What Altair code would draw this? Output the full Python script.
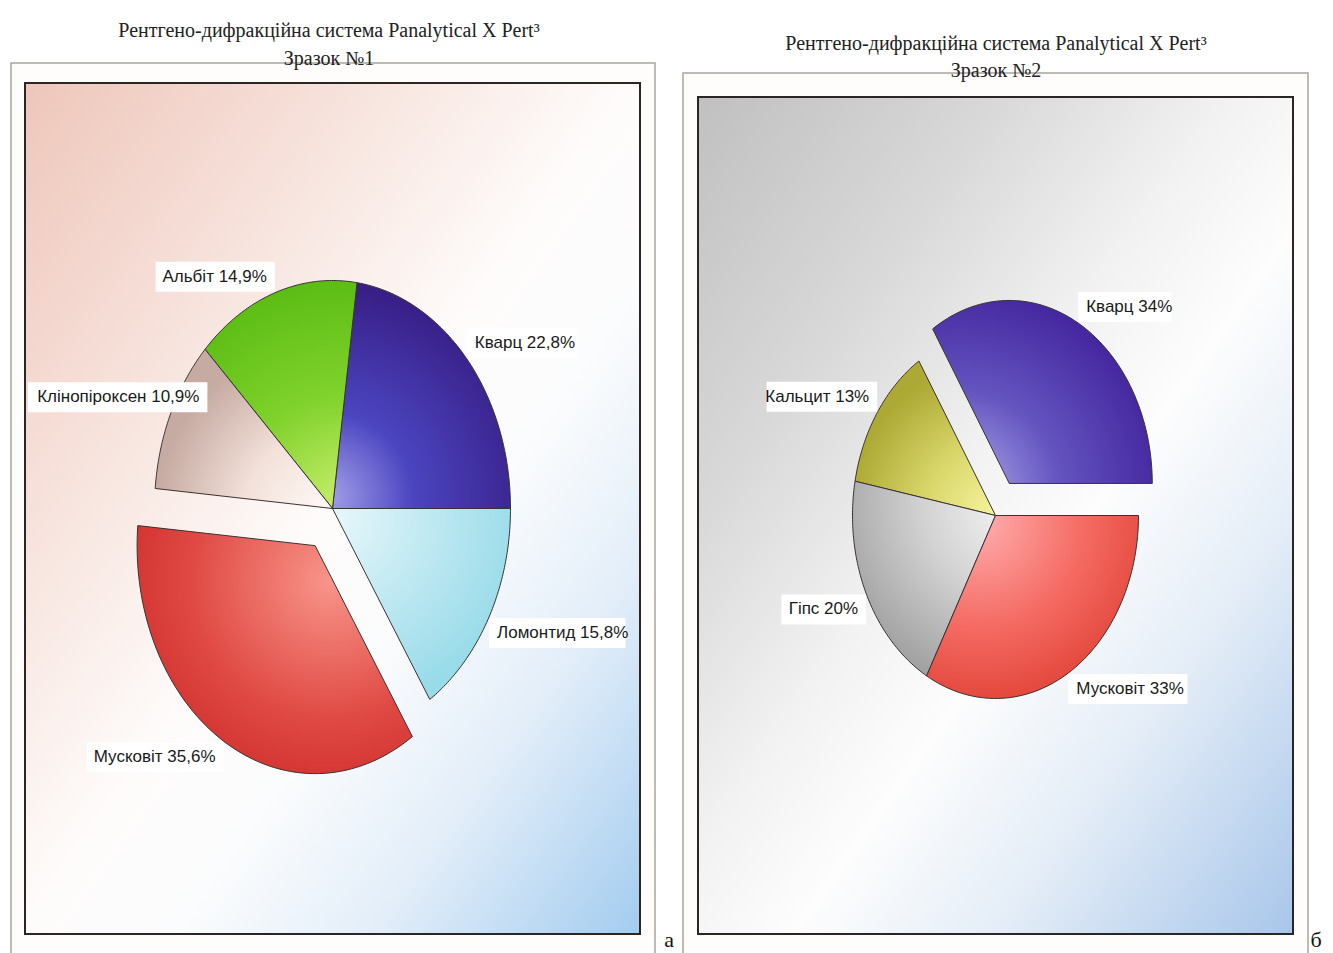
import altair as alt
import pandas as pd

# ---------------- data ----------------
names1 = ["Кварц", "Альбіт", "Клінопіроксен", "Мусковіт", "Ломонтид"]
values1 = [22.8, 14.9, 10.9, 35.6, 15.8]
labels1 = ["Кварц 22,8%", "Альбіт 14,9%", "Клінопіроксен 10,9%", "Мусковіт 35,6%", "Ломонтид 15,8%"]

names2 = ["Кварц", "Кальцит", "Гіпс", "Мусковіт"]
values2 = [34, 13, 20, 33]
labels2 = ["Кварц 34%", "Кальцит 13%", "Гіпс 20%", "Мусковіт 33%"]

title_line1 = "Рентгено-дифракційна система Panalytical X Pert³"
title1_line2 = "Зразок №1"
title2_line2 = "Зразок №2"

# ---------------- layout ----------------
W, H = 1317, 945
N = 72  # arc resolution
LABEL_FONT = "Liberation Sans, Arial, sans-serif"
LABEL_SIZE = 17
CW = 8.6        # approx px per label char
GX, GY = 8, 16  # label gap from slice edge (px)
PADX, BH = 8, 30

geom1 = dict(cx=324.5, cy=500.5, rx=178, ry=228, ex_name="Мусковіт", ex_amt=0.19,
             left=20, right=629)
geom2 = dict(cx=987.5, cy=507.5, rx=143, ry=183, ex_name="Кварц", ex_amt=0.2,
             left=693, right=1282)


def radial(stops, fx, fy, r=1.0):
    return {"gradient": "radial", "x1": fx, "y1": fy, "r1": 0,
            "x2": fx, "y2": fy, "r2": r,
            "stops": [{"offset": o, "color": c} for o, c in stops]}


def linear(stops):
    return {"gradient": "linear", "x1": 0, "y1": 0, "x2": 1, "y2": 1,
            "stops": [{"offset": o, "color": c} for o, c in stops]}


styles1 = {
    "Кварц": radial([(0, "#a4a2ea"), (0.38, "#4b45c0"), (1, "#361a80")], 0.08, 0.95),
    "Альбіт": radial([(0, "#cdf070"), (0.5, "#80d22c"), (1, "#5cbd14")], 0.8, 1.0),
    "Клінопіроксен": radial([(0, "#fffbf8"), (0.5, "#f3e1da"), (1, "#c6aba2")], 1.0, 1.0),
    "Мусковіт": radial([(0, "#f8958a"), (0.5, "#e04a44"), (1, "#c61c1c")], 0.7, 0.25),
    "Ломонтид": radial([(0, "#e6f6fa"), (1, "#98dbe9")], 0.05, 0.05),
}
styles2 = {
    "Кварц": radial([(0, "#b2aeec"), (0.45, "#6455c0"), (1, "#40209a")], 0.12, 0.95),
    "Кальцит": radial([(0, "#f8f6a2"), (0.5, "#d9d76a"), (1, "#aca935")], 1.0, 1.0),
    "Гіпс": radial([(0, "#f8f8f8"), (0.5, "#d3d3d3"), (1, "#a2a2a2")], 1.0, 0.1),
    "Мусковіт": radial([(0, "#ffadad"), (0.5, "#f46a62"), (1, "#dc382b")], 0.25, 0.1),
}


def pie(names, values, labels, g, styles):
    df = pd.DataFrame({"name": names, "value": values, "label": labels,
                       "ord": list(range(len(names)))})
    rx, ry, cx = g["rx"], g["ry"], g["cx"]
    xs = alt.Scale(domain=[-cx / rx, (W - cx) / rx], nice=False, zero=False)
    ys = alt.Scale(domain=[(g["cy"] - H) / ry, g["cy"] / ry], nice=False, zero=False)

    base = (alt.Chart(df)
            .transform_window(cum="sum(value)", sort=[alt.SortField("ord")], frame=[None, 0])
            .transform_joinaggregate(total="sum(value)")
            .transform_calculate(t0="2*PI*(datum.cum - datum.value)/datum.total")
            .transform_calculate(t1="2*PI*datum.cum/datum.total")
            .transform_calculate(tm="(datum.t0 + datum.t1)/2")
            .transform_calculate(e=f"datum.name == '{g['ex_name']}' ? {g['ex_amt']} : 0")
            .transform_calculate(ox="datum.e*cos(datum.tm)")
            .transform_calculate(oy="datum.e*sin(datum.tm)"))

    pts = (base.transform_calculate(k=f"sequence(0, {N + 3})")
           .transform_flatten(["k"])
           .transform_calculate(t=f"datum.t0 + (datum.t1 - datum.t0)*(datum.k - 1)/{N}")
           .transform_calculate(px=f"(datum.k == 0 || datum.k == {N + 2}) ? datum.ox : datum.ox + cos(datum.t)")
           .transform_calculate(py=f"(datum.k == 0 || datum.k == {N + 2}) ? datum.oy : datum.oy + sin(datum.t)"))

    layers = []
    for nm in names:
        layers.append(
            pts.transform_filter(alt.datum.name == nm)
            .mark_line(fill=styles[nm], stroke="#3a3232", strokeWidth=1, strokeJoin="round")
            .encode(x=alt.X("px:Q", scale=xs, axis=None),
                    y=alt.Y("py:Q", scale=ys, axis=None),
                    order=alt.Order("k:Q"))
        )

    lmin = (g["left"] - cx) / rx
    rmax = (g["right"] - cx) / rx
    lab = (base.transform_calculate(side="cos(datum.tm) >= 0 ? 1 : -1")
           .transform_calculate(tw=f"(length(datum.label)*{CW} + {PADX})/{rx}")
           .transform_calculate(lx0=f"datum.ox + cos(datum.tm) + datum.side*{GX / rx}")
           .transform_calculate(lx=f"datum.side > 0 ? min(datum.lx0, {rmax} - datum.tw) : max(datum.lx0, {lmin} + datum.tw)")
           .transform_calculate(ly=f"datum.oy + sin(datum.tm) + (sin(datum.tm) >= 0 ? 1 : -1)*{GY / ry}")
           .transform_calculate(bx1=f"datum.lx - datum.side*{PADX / rx}")
           .transform_calculate(bx2="datum.lx + datum.side*datum.tw")
           .transform_calculate(by1=f"datum.ly - {BH / 2 / ry}")
           .transform_calculate(by2=f"datum.ly + {BH / 2 / ry}"))

    boxes = lab.mark_rect(fill="#ffffff").encode(
        x=alt.X("bx1:Q", scale=xs, axis=None), x2="bx2:Q",
        y=alt.Y("by1:Q", scale=ys, axis=None), y2="by2:Q")
    txt_r = lab.transform_filter("datum.side > 0").mark_text(
        align="left", baseline="middle", font=LABEL_FONT, fontSize=LABEL_SIZE, color="#1a1a1a"
    ).encode(x=alt.X("lx:Q", scale=xs, axis=None), y=alt.Y("ly:Q", scale=ys, axis=None), text="label:N")
    txt_l = lab.transform_filter("datum.side < 0").mark_text(
        align="right", baseline="middle", font=LABEL_FONT, fontSize=LABEL_SIZE, color="#1a1a1a"
    ).encode(x=alt.X("lx:Q", scale=xs, axis=None), y=alt.Y("ly:Q", scale=ys, axis=None), text="label:N")

    return alt.layer(*layers, boxes, txt_r, txt_l)


one = pd.DataFrame({"d": [0]})


def frame(x1, x2, y1, y2, **kw):
    return alt.Chart(one).mark_rect(**kw).encode(
        x=alt.value(x1), x2=alt.value(x2), y=alt.value(y1), y2=alt.value(y2))


def txt(s, x, y, **kw):
    return alt.Chart(one).mark_text(text=s, **kw).encode(x=alt.value(x), y=alt.value(y))


bg1 = linear([(0, "#eec6ba"), (0.3, "#f8e6e0"), (0.5, "#fefcfb"), (0.62, "#fbfcfd"),
              (0.78, "#e3eef9"), (1, "#a3ccef")])
bg2 = linear([(0, "#c0c0c0"), (0.25, "#d8d8d8"), (0.45, "#f2f2f2"), (0.58, "#fdfdfd"),
              (0.75, "#e4edf7"), (1, "#a8c6ea")])

serif = dict(font="Liberation Serif, Times New Roman, serif", fontSize=20, color="#222222",
             align="center", baseline="alphabetic")

deco = [
    frame(3, 647, 55, H + 20, fill="#fefdfb", stroke="#a9a49d", strokeWidth=1.5),
    frame(675, 1300, 65, H + 20, fill="#fefdfb", stroke="#a9a49d", strokeWidth=1.5),
    frame(17, 632, 75, 926, fill=bg1, stroke="#2b2523", strokeWidth=2),
    frame(690, 1285, 89, 926, fill=bg2, stroke="#2b2523", strokeWidth=2),
]
texts = [
    txt(title_line1, 321, 29, **serif),
    txt(title1_line2, 321, 57, **serif),
    txt(title_line1, 988, 42, **serif),
    txt(title2_line2, 988, 69, **serif),
    txt("а", 661, 939, font="Liberation Serif, serif", fontSize=22, color="#111111",
        align="center", baseline="alphabetic"),
    txt("б", 1308, 939, font="Liberation Serif, serif", fontSize=22, color="#111111",
        align="center", baseline="alphabetic"),
]

pie1 = pie(names1, values1, labels1, geom1, styles1)
pie2 = pie(names2, values2, labels2, geom2, styles2)

chart = (alt.layer(*deco, pie1, pie2, *texts)
         .resolve_scale(x="independent", y="independent")
         .properties(width=W, height=H, padding=0,
                     autosize=alt.AutoSizeParams(type="none"),
                     background="#ffffff")
         .configure_view(stroke=None))

chart.save("out.html", embed_options={"renderer": "svg", "actions": False})
